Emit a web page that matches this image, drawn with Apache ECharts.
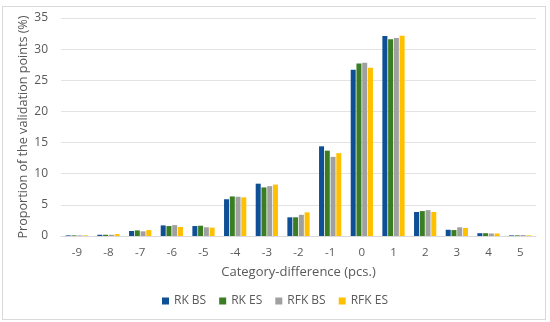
<!DOCTYPE html>
<html><head><meta charset="utf-8">
<script src="https://cdn.jsdelivr.net/npm/echarts@6/dist/echarts.min.js"></script>
<style>html,body{margin:0;padding:0;background:#fff}#c{width:550px;height:322px}
#frame{position:absolute;left:2px;top:6px;width:542px;height:312px;border:1px solid #d9d9d9;pointer-events:none}</style>
</head><body><div id="c"></div><div id="frame"></div>
<script>
const categories = ['-9','-8','-7','-6','-5','-4','-3','-2','-1','0','1','2','3','4','5'];
const rkBS  = [0.1, 0.2, 0.8, 1.7, 1.6, 5.9, 8.4, 3.0, 14.4, 26.7, 32.1, 3.85, 1.0, 0.45, 0.1];
const rkES  = [0.1, 0.2, 0.9, 1.6, 1.65, 6.35, 7.8, 3.0, 13.7, 27.7, 31.6, 4.0, 0.95, 0.45, 0.1];
const rfkBS = [0.1, 0.2, 0.75, 1.75, 1.4, 6.3, 8.0, 3.4, 12.7, 27.8, 31.8, 4.15, 1.4, 0.4, 0.15];
const rfkES = [0.1, 0.3, 0.95, 1.45, 1.35, 6.2, 8.25, 3.8, 13.3, 27.0, 32.15, 3.85, 1.3, 0.4, 0.1];
const seriesNames = ['RK BS','RK ES','RFK BS','RFK ES'];
const colors = ['#0E4F96','#3A7D22','#A0A0A0','#FFC000'];
const yTicks = [0,5,10,15,20,25,30,35];

const font = 'Open Sans';
const chart = echarts.init(document.getElementById('c'));
const data = [rkBS, rkES, rfkBS, rfkES];
chart.setOption({
  animation: false,
  textStyle: {fontFamily: font},
  grid: {left: 61, right: 14, top: 18, bottom: 86},
  legend: {
    bottom: 10, left: 'center', itemWidth: 7, itemHeight: 7, itemGap: 13,
    icon: 'rect',
    textStyle: {color: '#595959', fontSize: 12, fontFamily: font},
    data: seriesNames
  },
  xAxis: {
    type: 'category', data: categories,
    name: 'Category-difference (pcs.)', nameLocation: 'middle', nameGap: 30,
    nameTextStyle: {color: '#595959', fontSize: 13, fontFamily: font},
    axisLine: {lineStyle: {color: '#d9d9d9'}},
    axisTick: {show: false},
    axisLabel: {color: '#595959', fontSize: 11.5, margin: 11, fontFamily: font}
  },
  yAxis: {
    type: 'value', min: yTicks[0], max: yTicks[yTicks.length-1], interval: 5,
    name: 'Proportion of the validation points (%)', nameLocation: 'middle', nameGap: 31,
    nameMoveOverlap: false,
    nameTextStyle: {color: '#595959', fontSize: 12.6, fontFamily: font},
    axisLine: {show: false}, axisTick: {show: false},
    axisLabel: {color: '#595959', fontSize: 12, margin: 13, fontFamily: font},
    splitLine: {lineStyle: {color: '#e3e3e3'}}
  },
  series: seriesNames.map((n, i) => ({
    name: n, type: 'bar', data: data[i], barWidth: 5, barGap: '15%',
    itemStyle: {color: colors[i]}
  }))
});
</script></body></html>
